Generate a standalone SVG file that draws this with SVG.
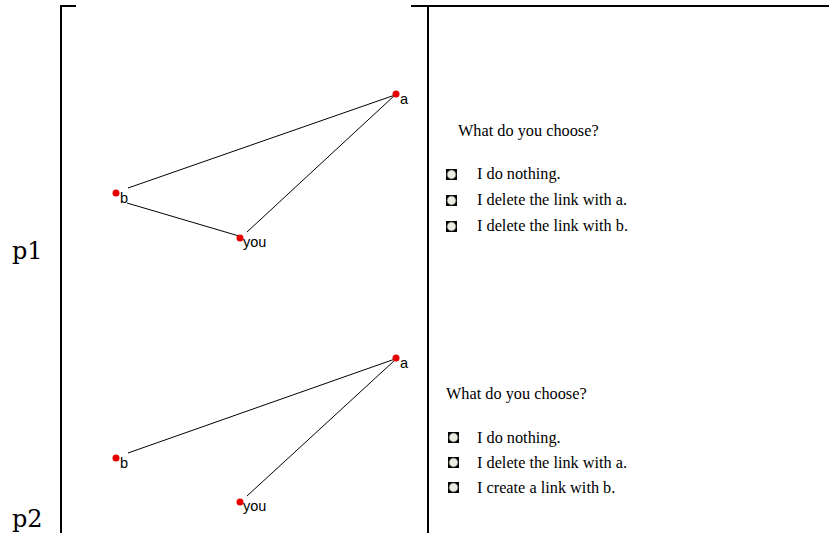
<svg xmlns="http://www.w3.org/2000/svg" width="829" height="533" viewBox="0 0 829 533">
<style>
.frame{stroke:#000;stroke-width:2;fill:none}
.edge{stroke:#000;stroke-width:1;fill:none}
.dot{fill:#e60000}
.nl{font-family:"Liberation Sans",Arial,sans-serif;font-size:14.5px;fill:#000}
.q{font-family:"Liberation Serif","Times New Roman",serif;font-size:16.3px;fill:#000}
.pl{font-family:"DejaVu Serif","Liberation Serif",serif;font-size:24px;fill:#000}
.rb{fill:#000}
.rc{fill:#ecece2;stroke:#6e6e66;stroke-width:0.8}
</style>
<defs>
<g id="radio"><rect class="rb" x="0" y="0" width="11" height="11"/><circle class="rc" cx="5.5" cy="5.5" r="4.4"/></g>
</defs>
<rect width="829" height="533" fill="#fff"/>
<g id="frame">
<path class="frame" d="M61,533 V6 H76"/>
<path class="frame" d="M411,6 H829 M428,6 V533"/>
</g>
<g id="labels">
<text class="pl" x="12" y="259">p1</text>
<text class="pl" x="12" y="527">p2</text>
</g>
<g id="connectors">
<line class="edge" x1="128" y1="188" x2="395" y2="95"/>
<line class="edge" x1="127" y1="203" x2="239" y2="236"/>
<line class="edge" x1="247" y1="232" x2="395" y2="95"/>
<line class="edge" x1="128" y1="453" x2="395" y2="359"/>
<line class="edge" x1="247" y1="496" x2="395" y2="360"/>
</g>
<g id="p1-a"><circle class="dot" cx="396" cy="94" r="3.5"/><text class="nl" x="400" y="104">a</text></g>
<g id="p1-b"><circle class="dot" cx="116" cy="193" r="3.5"/><text class="nl" x="120" y="203">b</text></g>
<g id="p1-you"><circle class="dot" cx="240" cy="238" r="3.5"/><text class="nl" x="243" y="247">you</text></g>
<g id="p2-a"><circle class="dot" cx="396" cy="358" r="3.5"/><text class="nl" x="400" y="368">a</text></g>
<g id="p2-b"><circle class="dot" cx="116" cy="458" r="3.5"/><text class="nl" x="120" y="468">b</text></g>
<g id="p2-you"><circle class="dot" cx="240" cy="502" r="3.5"/><text class="nl" x="243" y="511">you</text></g>
<g id="p1-question">
<text class="q" x="458" y="136">What do you choose?</text>
<use href="#radio" x="446" y="169"/><text class="q" x="477" y="179">I do nothing.</text>
<use href="#radio" x="446" y="195"/><text class="q" x="477" y="205">I delete the link with a.</text>
<use href="#radio" x="446" y="221"/><text class="q" x="477" y="231">I delete the link with b.</text>
</g>
<g id="p2-question">
<text class="q" x="446" y="399">What do you choose?</text>
<use href="#radio" x="448" y="432"/><text class="q" x="477" y="443">I do nothing.</text>
<use href="#radio" x="448" y="457"/><text class="q" x="477" y="468">I delete the link with a.</text>
<use href="#radio" x="448" y="482"/><text class="q" x="477" y="493">I create a link with b.</text>
</g>
</svg>
